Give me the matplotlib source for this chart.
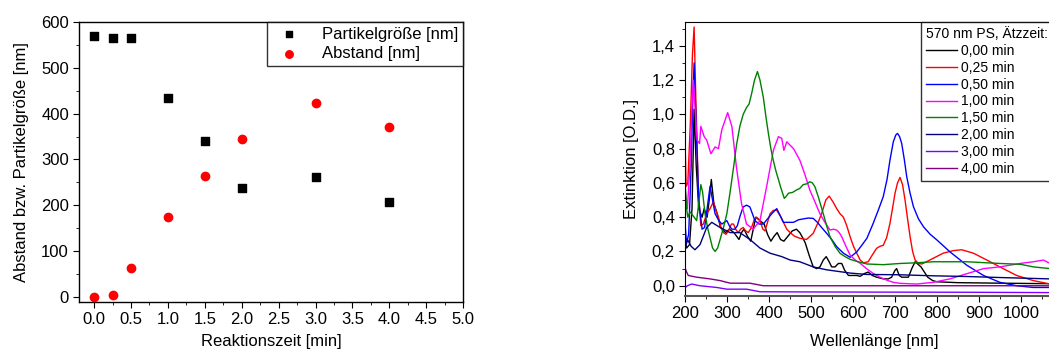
import numpy as np
import matplotlib
matplotlib.use("Agg")
import matplotlib.pyplot as plt
from matplotlib.ticker import MultipleLocator, FixedLocator, FuncFormatter

plt.rcParams['font.family'] = ['Liberation Sans', 'DejaVu Sans']

# linkes Diagramm: Partikelgroesse und Abstand
zeit = [0.0, 0.25, 0.5, 1.0, 1.5, 2.0, 3.0, 4.0]
partikel = [570, 565, 565, 433, 341, 237, 261, 207]
abstand = [0, 5, 64, 174, 264, 345, 424, 370]

# rechtes Diagramm: Extinktionsspektren
wl_000 = [200, 203, 210, 216, 221, 226, 232, 240, 245, 252, 257, 262, 268, 276, 284, 296, 305,
          316, 322, 328, 334, 340, 348, 356, 362, 368, 378, 388, 396, 404, 412, 419, 427, 435,
          445, 455, 465, 473, 480, 486, 495, 505, 513, 521, 529, 536, 543, 549, 557, 565, 573,
          580, 589, 600, 609, 617, 626, 636, 646, 656, 672, 684, 692, 700, 704, 710, 716, 732,
          740, 748, 755, 762, 770, 778, 790, 800, 850, 950, 1070]
ext_000 = [0.26, 0.22, 0.24, 0.45, 1.03, 0.70, 0.45, 0.40, 0.45, 0.40, 0.50, 0.62, 0.48, 0.42,
           0.34, 0.31, 0.33, 0.31, 0.29, 0.27, 0.31, 0.33, 0.29, 0.26, 0.33, 0.40, 0.38, 0.36,
           0.30, 0.26, 0.29, 0.31, 0.27, 0.26, 0.29, 0.32, 0.33, 0.31, 0.28, 0.25, 0.18, 0.11,
           0.10, 0.11, 0.15, 0.17, 0.14, 0.11, 0.11, 0.13, 0.13, 0.09, 0.06, 0.06, 0.06, 0.055,
           0.07, 0.08, 0.06, 0.05, 0.04, 0.04, 0.05, 0.09, 0.10, 0.06, 0.05, 0.05, 0.10, 0.14,
           0.125, 0.11, 0.08, 0.05, 0.03, 0.023, 0.018, 0.015, 0.012]

wl_025 = [200, 202, 206, 212, 217, 221, 225, 231, 237, 243, 251, 259, 267, 273, 279, 285, 291,
          297, 303, 310, 315, 320, 326, 332, 338, 344, 350, 358, 365, 370, 378, 385, 390, 396,
          402, 410, 418, 426, 434, 442, 450, 460, 473, 489, 505, 515, 525, 535, 543, 552, 561,
          569, 577, 585, 593, 601, 609, 617, 625, 636, 646, 656, 664, 672, 680, 688, 694, 700,
          706, 712, 718, 724, 730, 736, 742, 748, 756, 764, 775, 791, 815, 839, 859, 887, 919,
          950, 990, 1030, 1070]
ext_025 = [0.78, 0.58, 0.60, 0.95, 1.35, 1.51, 1.10, 0.55, 0.35, 0.36, 0.42, 0.45, 0.49, 0.44,
           0.40, 0.34, 0.31, 0.30, 0.32, 0.36, 0.36, 0.33, 0.31, 0.33, 0.34, 0.32, 0.31, 0.34,
           0.39, 0.40, 0.38, 0.33, 0.32, 0.37, 0.42, 0.44, 0.44, 0.41, 0.37, 0.33, 0.31, 0.29,
           0.277, 0.27, 0.306, 0.36, 0.42, 0.50, 0.523, 0.49, 0.45, 0.42, 0.40, 0.35, 0.286,
           0.23, 0.189, 0.15, 0.134, 0.14, 0.18, 0.218, 0.23, 0.236, 0.28, 0.364, 0.45, 0.539,
           0.60, 0.632, 0.59, 0.50, 0.39, 0.286, 0.20, 0.15, 0.13, 0.127, 0.14, 0.16, 0.19,
           0.205, 0.21, 0.19, 0.15, 0.11, 0.06, 0.03, 0.01]

wl_050 = [200, 203, 208, 214, 218, 221, 225, 232, 240, 246, 252, 259, 265, 271, 280, 287, 293,
          299, 305, 311, 318, 324, 331, 338, 346, 354, 360, 366, 376, 386, 396, 406, 418, 426,
          434, 446, 458, 470, 481, 493, 505, 515, 525, 537, 549, 561, 577, 593, 609, 622, 633,
          648, 660, 672, 681, 688, 696, 702, 706, 711, 716, 722, 728, 736, 744, 756, 768, 784,
          800, 831, 871, 911, 950, 990, 1030, 1070]
ext_050 = [0.34, 0.25, 0.30, 0.70, 1.10, 1.30, 1.00, 0.50, 0.33, 0.34, 0.45, 0.58, 0.50, 0.42,
           0.38, 0.36, 0.37, 0.38, 0.35, 0.33, 0.33, 0.35, 0.41, 0.46, 0.47, 0.46, 0.42, 0.38,
           0.36, 0.36, 0.39, 0.42, 0.45, 0.41, 0.37, 0.37, 0.37, 0.385, 0.39, 0.395, 0.393,
           0.37, 0.34, 0.306, 0.27, 0.228, 0.19, 0.166, 0.198, 0.24, 0.277, 0.364, 0.44, 0.52,
           0.62, 0.733, 0.84, 0.88, 0.889, 0.87, 0.83, 0.74, 0.636, 0.54, 0.461, 0.39, 0.344,
           0.30, 0.267, 0.198, 0.12, 0.06, 0.02, 0.0, -0.01, -0.01]

wl_100 = [200, 205, 211, 216, 219, 223, 228, 234, 237, 245, 251, 261, 271, 279, 287, 301, 311,
          322, 334, 346, 362, 378, 394, 410, 422, 430, 435, 442, 458, 473, 485, 497, 509, 521,
          533, 545, 553, 561, 567, 573, 583, 593, 605, 617, 632, 648, 664, 680, 696, 712, 752,
          791, 831, 871, 911, 950, 998, 1030, 1054, 1070]
ext_100 = [0.55, 0.45, 0.70, 1.05, 1.20, 1.05, 0.85, 0.83, 0.93, 0.87, 0.85, 0.77, 0.81, 0.80,
           0.91, 1.01, 0.93, 0.69, 0.48, 0.36, 0.33, 0.38, 0.58, 0.79, 0.87, 0.86, 0.79, 0.84,
           0.80, 0.733, 0.65, 0.558, 0.49, 0.42, 0.37, 0.325, 0.33, 0.325, 0.31, 0.286, 0.23,
           0.179, 0.15, 0.131, 0.10, 0.072, 0.05, 0.033, 0.02, 0.014, 0.01, 0.02, 0.04, 0.07,
           0.10, 0.11, 0.13, 0.14, 0.15, 0.13]

wl_150 = [200, 203, 206, 211, 215, 221, 227, 233, 237, 241, 247, 253, 259, 265, 271, 277, 283,
          291, 299, 307, 315, 322, 330, 338, 346, 352, 358, 365, 372, 378, 386, 392, 398, 404,
          410, 416, 422, 428, 432, 436, 440, 446, 456, 466, 473, 481, 490, 497, 503, 509, 517,
          523, 529, 537, 545, 557, 569, 581, 593, 612, 633, 672, 712, 752, 791, 871, 950, 1000,
          1030, 1070]
ext_150 = [0.58, 0.45, 0.40, 0.43, 0.42, 0.40, 0.38, 0.50, 0.59, 0.55, 0.42, 0.34, 0.28, 0.22,
           0.20, 0.22, 0.27, 0.34, 0.42, 0.55, 0.69, 0.82, 0.93, 1.00, 1.04, 1.06, 1.12, 1.20,
           1.25, 1.20, 1.10, 0.99, 0.89, 0.80, 0.73, 0.67, 0.62, 0.57, 0.54, 0.51, 0.52, 0.54,
           0.545, 0.56, 0.568, 0.59, 0.595, 0.607, 0.60, 0.578, 0.52, 0.47, 0.42, 0.35, 0.286,
           0.23, 0.189, 0.17, 0.154, 0.14, 0.127, 0.123, 0.13, 0.134, 0.14, 0.14, 0.13, 0.125,
           0.11, 0.10]

wl_200 = [200, 205, 214, 223, 235, 251, 263, 283, 307, 330, 354, 378, 402, 430, 450, 473, 505,
          537, 593, 632, 712, 791, 871, 950, 1070]
ext_200 = [0.22, 0.27, 0.23, 0.21, 0.24, 0.34, 0.37, 0.34, 0.31, 0.31, 0.27, 0.22, 0.19, 0.17,
           0.15, 0.14, 0.11, 0.093, 0.074, 0.066, 0.064, 0.058, 0.054, 0.048, 0.04]

wl_300 = [200, 205, 215, 235, 275, 299, 346, 378, 473, 632, 870, 1070]
ext_300 = [-0.01, 0.0, 0.01, 0.0, -0.01, -0.02, -0.02, -0.035, -0.036, -0.037, -0.038, -0.04]

wl_400 = [200, 203, 207, 227, 259, 283, 307, 354, 386, 473, 632, 870, 1070]
ext_400 = [0.10, 0.08, 0.06, 0.05, 0.04, 0.03, 0.015, 0.015, 0.0, 0.0, 0.0, 0.0, 0.0]

spektren = [
    ('0,00 min', wl_000, ext_000, 'black'),
    ('0,25 min', wl_025, ext_025, '#ff0000'),
    ('0,50 min', wl_050, ext_050, '#0000ff'),
    ('1,00 min', wl_100, ext_100, '#ff00ff'),
    ('1,50 min', wl_150, ext_150, '#008000'),
    ('2,00 min', wl_200, ext_200, '#000080'),
    ('3,00 min', wl_300, ext_300, '#8000ff'),
    ('4,00 min', wl_400, ext_400, '#800080'),
]

fig = plt.figure(figsize=(10.49, 3.52), dpi=100)

# --- links ---
ax1 = fig.add_axes([0.0756, 0.143, 0.366, 0.795])
ax1.scatter(zeit, partikel, marker='s', s=30, color='black', label='Partikelgröße [nm]', zorder=3)
ax1.scatter(zeit, abstand, marker='o', s=36, color='red', label='Abstand [nm]', zorder=3)
ax1.set_xlim(-0.2, 5.0)
ax1.set_ylim(-10, 600)
ax1.xaxis.set_major_locator(MultipleLocator(0.5))
ax1.xaxis.set_minor_locator(MultipleLocator(0.25))
ax1.yaxis.set_major_locator(MultipleLocator(100))
ax1.yaxis.set_minor_locator(MultipleLocator(50))
ax1.xaxis.set_major_formatter(FuncFormatter(lambda v, p: f'{v:.1f}'))
ax1.tick_params(which='both', direction='out', top=False, right=False, labelsize=12)
ax1.tick_params(which='major', length=4)
ax1.tick_params(which='minor', length=2.5)
ax1.set_xlabel('Reaktionszeit [min]', fontsize=12, labelpad=5)
ax1.set_ylabel('Abstand bzw. Partikelgröße [nm]', fontsize=12, labelpad=9)
leg1 = ax1.legend(loc='upper right', fontsize=12, frameon=True, fancybox=False,
                  edgecolor='black', borderaxespad=0, handletextpad=1.0,
                  labelspacing=0.25, borderpad=0.3, markerscale=0.9)
leg1.get_frame().set_linewidth(1.0)
for s in ax1.spines.values():
    s.set_linewidth(1.0)

# --- rechts ---
ax2 = fig.add_axes([0.6533, 0.159, 0.3598, 0.779])
for name, wl, ext, col in spektren:
    ax2.plot(wl, ext, color=col, lw=1.0, label=name)
ax2.set_xlim(200, 1100)
ax2.set_ylim(-0.06, 1.54)
ax2.xaxis.set_major_locator(FixedLocator([200, 300, 400, 500, 600, 700, 800, 900, 1000]))
ax2.xaxis.set_minor_locator(MultipleLocator(50))
ax2.yaxis.set_major_locator(MultipleLocator(0.2))
ax2.yaxis.set_minor_locator(MultipleLocator(0.1))
ax2.yaxis.set_major_formatter(FuncFormatter(lambda v, p: f'{v:.1f}'.replace('.', ',')))
ax2.tick_params(which='both', direction='out', top=False, right=False, labelsize=12)
ax2.tick_params(which='major', length=4)
ax2.tick_params(which='minor', length=2.5)
ax2.set_xlabel('Wellenlänge [nm]', fontsize=12, labelpad=9)
ax2.set_ylabel('Extinktion [O.D.]', fontsize=12, labelpad=9)
ax2.spines['bottom'].set_color('#555555')
ax2.spines['bottom'].set_linewidth(1.5)
leg2 = ax2.legend(loc='upper left', bbox_to_anchor=(0.624, 1.0), fontsize=10,
                  title='570 nm PS, Ätzzeit:', title_fontsize=10, alignment='left',
                  frameon=True, fancybox=False, edgecolor='black', borderaxespad=0,
                  handlelength=2.2, handletextpad=0.3, labelspacing=0.2, borderpad=0.4)
leg2.get_frame().set_linewidth(1.0)

fig.savefig('out.png', dpi=100)
